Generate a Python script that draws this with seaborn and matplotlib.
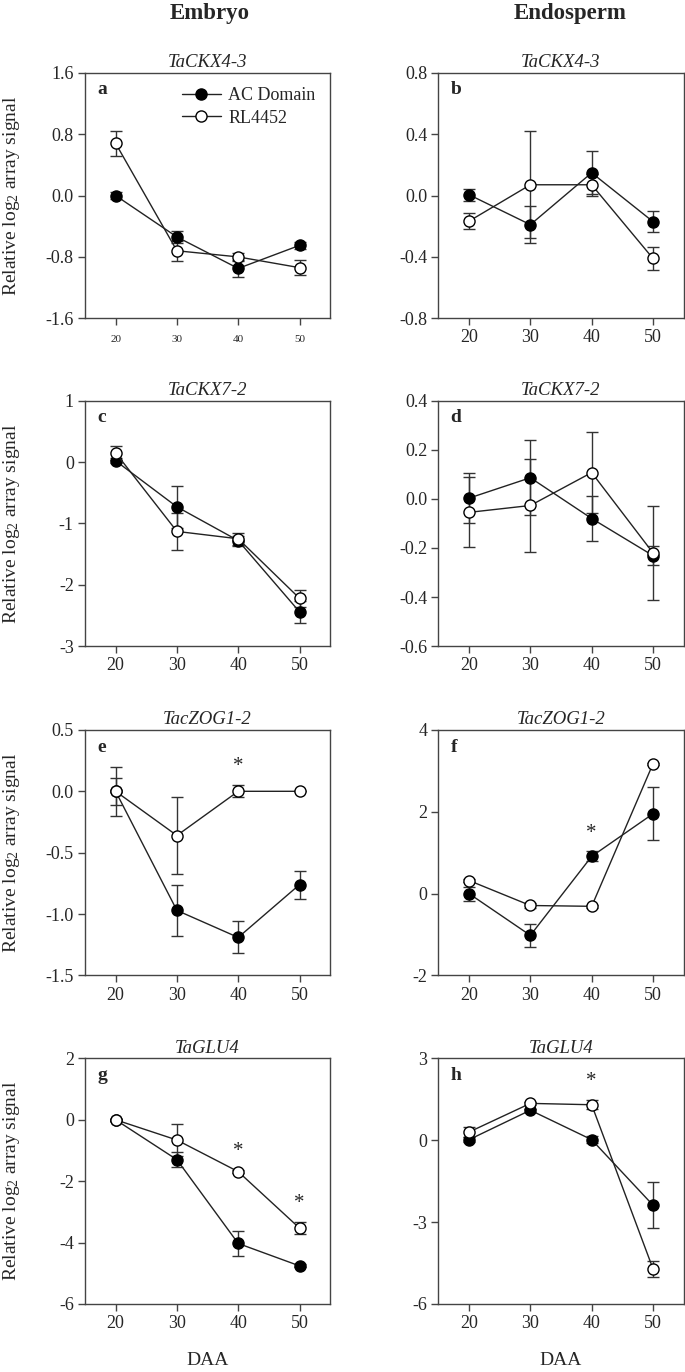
import pandas as pd
import seaborn as sns
import matplotlib.pyplot as plt

daa = [20, 30, 40, 50]
lines = ['AC Domain', 'RL4452']

# panel a - TaCKX4-3 embryo
a_ac = [0.0, -0.54, -0.95, -0.65]
a_ac_err = [0.05, 0.08, 0.11, 0.05]
a_rl = [0.68, -0.72, -0.80, -0.94]
a_rl_err = [0.16, 0.13, 0.05, 0.10]

# panel b - TaCKX4-3 endosperm
b_ac = [0.005, -0.19, 0.148, -0.17]
b_ac_err = [0.04, 0.12, 0.14, 0.07]
b_rl = [-0.167, 0.07, 0.07, -0.41]
b_rl_err = [0.05, 0.35, 0.07, 0.075]

# panel c - TaCKX7-2 embryo
c_ac = [0.02, -0.73, -1.28, -2.44]
c_ac_err = [0.04, 0.34, 0.08, 0.18]
c_rl = [0.15, -1.13, -1.25, -2.22]
c_rl_err = [0.11, 0.30, 0.10, 0.14]

# panel d - TaCKX7-2 endosperm
d_ac = [0.003, 0.086, -0.08, -0.231]
d_ac_err = [0.103, 0.153, 0.093, 0.04]
d_rl = [-0.055, -0.027, 0.107, -0.22]
d_rl_err = [0.142, 0.19, 0.166, 0.19]

# panel e - TacZOG1-2 embryo
e_ac = [0.0, -0.97, -1.19, -0.76]
e_ac_err = [0.11, 0.21, 0.13, 0.115]
e_rl = [0.0, -0.36, 0.0, 0.0]
e_rl_err = [0.20, 0.31, 0.05, 0.0]

# panel f - TacZOG1-2 endosperm
f_ac = [0.0, -1.02, 0.91, 1.95]
f_ac_err = [0.17, 0.29, 0.12, 0.65]
f_rl = [0.32, -0.29, -0.31, 3.17]
f_rl_err = [0.04, 0.06, 0.03, 0.02]

# panel g - TaGLU4 embryo
g_ac = [0.0, -1.30, -4.03, -4.76]
g_ac_err = [0.03, 0.25, 0.41, 0.05]
g_rl = [0.0, -0.66, -1.69, -3.53]
g_rl_err = [0.03, 0.51, 0.05, 0.19]

# panel h - TaGLU4 endosperm
h_ac = [0.02, 1.10, 0.02, -2.38]
h_ac_err = [0.10, 0.05, 0.12, 0.85]
h_rl = [0.30, 1.35, 1.30, -4.71]
h_rl_err = [0.20, 0.05, 0.17, 0.30]

panels = [
    ('a', 'TaCKX4-3', a_ac, a_ac_err, a_rl, a_rl_err, (-1.6, 1.6), [-1.6, -0.8, 0.0, 0.8, 1.6], '%.1f', []),
    ('b', 'TaCKX4-3', b_ac, b_ac_err, b_rl, b_rl_err, (-0.8, 0.8), [-0.8, -0.4, 0.0, 0.4, 0.8], '%.1f', []),
    ('c', 'TaCKX7-2', c_ac, c_ac_err, c_rl, c_rl_err, (-3, 1), [-3, -2, -1, 0, 1], '%d', []),
    ('d', 'TaCKX7-2', d_ac, d_ac_err, d_rl, d_rl_err, (-0.6, 0.4), [-0.6, -0.4, -0.2, 0.0, 0.2, 0.4], '%.1f', []),
    ('e', 'TacZOG1-2', e_ac, e_ac_err, e_rl, e_rl_err, (-1.5, 0.5), [-1.5, -1.0, -0.5, 0.0, 0.5], '%.1f',
     [('RL4452', 40)]),
    ('f', 'TacZOG1-2', f_ac, f_ac_err, f_rl, f_rl_err, (-2, 4), [-2, 0, 2, 4], '%d',
     [('AC Domain', 40)]),
    ('g', 'TaGLU4', g_ac, g_ac_err, g_rl, g_rl_err, (-6, 2), [-6, -4, -2, 0, 2], '%d',
     [('RL4452', 40), ('RL4452', 50)]),
    ('h', 'TaGLU4', h_ac, h_ac_err, h_rl, h_rl_err, (-6, 3), [-6, -3, 0, 3], '%d',
     [('RL4452', 40)]),
]

sns.set_style('ticks')
plt.rcParams['font.family'] = ['Liberation Serif', 'DejaVu Serif']
plt.rcParams['mathtext.fontset'] = 'custom'
plt.rcParams['mathtext.rm'] = 'Liberation Serif'
plt.rcParams['mathtext.it'] = 'Liberation Serif:italic'
plt.rcParams['mathtext.bf'] = 'Liberation Serif:bold'

fig = plt.figure(figsize=(6.85, 13.72), dpi=100)

lefts = [0.124, 0.640]
bottoms = [0.768, 0.529, 0.289, 0.0496]
w, h = 0.358, 0.179
spine_col = '#444444'

for i, (letter, gene, ac, ac_err, rl, rl_err, ylim, yticks, fmt, stars) in enumerate(panels):
    row, col = divmod(i, 2)
    ax = fig.add_axes([lefts[col], bottoms[row], w, h])
    df = pd.DataFrame({
        'daa': daa * 2,
        'value': ac + rl,
        'err': ac_err + rl_err,
        'line': [lines[0]] * 4 + [lines[1]] * 4,
    })
    for name, face in zip(lines, ['black', 'white']):
        sub = df[df['line'] == name]
        ax.errorbar(sub['daa'], sub['value'], yerr=sub['err'], fmt='none',
                    ecolor='#333333', elinewidth=1, capsize=4, capthick=1, zorder=2)
        sns.lineplot(data=sub, x='daa', y='value', ax=ax, color='#222222', lw=1,
                     marker='o', markersize=8, markerfacecolor=face,
                     markeredgecolor='black', markeredgewidth=1,
                     label=name, legend=False, errorbar=None, zorder=3)
    rng = ylim[1] - ylim[0]
    for name, x in stars:
        sub = df[(df['line'] == name) & (df['daa'] == x)]
        top = sub['value'].iloc[0] + sub['err'].iloc[0]
        ax.text(x, top + 0.075 * rng, '*', ha='center', va='center', fontsize=15)

    ax.set_xlim(15, 55)
    ax.set_ylim(*ylim)
    ax.set_xticks(daa)
    ax.set_yticks(yticks)
    ax.set_yticklabels([fmt % t for t in yticks])
    ax.tick_params(axis='both', direction='out', length=5, width=1, color=spine_col,
                   labelsize=13, pad=3)
    if letter == 'a':
        ax.tick_params(axis='x', labelsize=8, pad=7)
    for s in ax.spines.values():
        s.set_color(spine_col)
        s.set_linewidth(1)
    ax.set_title(gene, fontsize=13.5, style='italic', pad=4)
    ax.text(0.05, 0.93, letter, transform=ax.transAxes, fontsize=14,
            fontweight='bold', va='center', ha='left')
    ax.set_xlabel('')
    if col == 0:
        ax.set_ylabel('Relative log$_2$ array signal', fontsize=14)
        ax.yaxis.set_label_coords(-0.255, 0.5)
    else:
        ax.set_ylabel('')
    if row == 3:
        ax.set_xlabel('DAA', fontsize=14, labelpad=14)
    if letter == 'a':
        ax.legend(loc='upper right', bbox_to_anchor=(1.0, 1.0), frameon=False,
                  fontsize=13, handlelength=2.2, handletextpad=0.4,
                  borderaxespad=0.4, labelspacing=0.3)

fig.text(210 / 685, 1 - 13 / 1372, 'Embryo', ha='center', va='center',
         fontsize=16.5, fontweight='bold')
fig.text(570 / 685, 1 - 13 / 1372, 'Endosperm', ha='center', va='center',
         fontsize=16.5, fontweight='bold')

fig.savefig('out.png', dpi=100)
